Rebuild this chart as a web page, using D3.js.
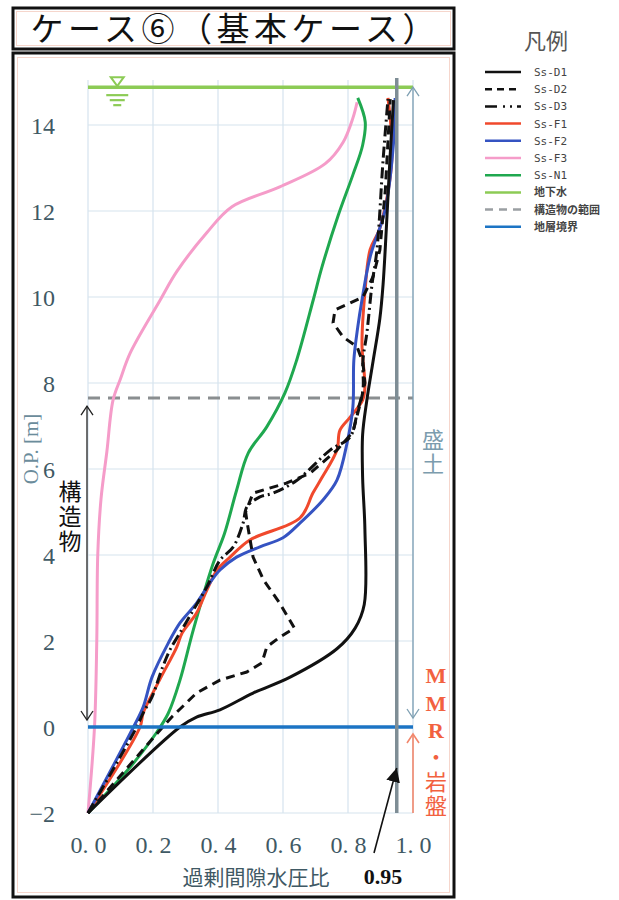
<!DOCTYPE html>
<html><head><meta charset="utf-8">
<script src="https://cdn.jsdelivr.net/npm/d3@7"></script>
<style>body{margin:0;background:#fff}</style>
</head><body>
<svg id="c" width="619" height="900" xmlns="http://www.w3.org/2000/svg"></svg>
<script>
// ---------- data (excess pore pressure ratio, elevation O.P. m) ----------
const titleText = "ケース⑥（基本ケース）";
const seriesNames = ["Ss-D1","Ss-D2","Ss-D3","Ss-F1","Ss-F2","Ss-F3","Ss-N1"];
const ssD1 = [[0,-2],[0.283,0],[0.334,0.23],[0.406,0.4],[0.508,0.79],[0.622,1.16],[0.766,1.82],[0.822,2.3],[0.85,2.85],[0.852,4.6],[0.845,5.8],[0.845,6.8],[0.858,7.6],[0.877,8.5],[0.898,9.5],[0.908,10.3],[0.918,11.6],[0.929,13.2],[0.94,14.58]];
const ssD2 = [[0,-2],[0.23,0],[0.26,0.25],[0.334,0.79],[0.406,1.09],[0.489,1.28],[0.535,1.49],[0.55,1.86],[0.59,2.09],[0.635,2.3],[0.59,2.88],[0.54,3.42],[0.508,3.95],[0.49,4.74],[0.485,5.0],[0.508,5.44],[0.61,5.67],[0.683,5.9],[0.766,6.44],[0.815,6.86],[0.837,7.5],[0.852,8.0],[0.846,8.47],[0.828,8.84],[0.785,9.07],[0.754,9.4],[0.76,9.7],[0.846,10.0],[0.877,10.47],[0.898,11.09],[0.915,12.5],[0.93,14.6]];
const ssD3 = [[0,-2],[0.15,0],[0.17,0.33],[0.197,0.7],[0.23,1.4],[0.252,1.79],[0.283,2.19],[0.324,2.72],[0.366,3.26],[0.406,3.88],[0.447,4.19],[0.477,4.74],[0.489,5.12],[0.529,5.35],[0.57,5.44],[0.643,5.74],[0.745,6.44],[0.806,6.74],[0.83,7.37],[0.846,7.84],[0.846,8.53],[0.858,9.16],[0.874,10.3],[0.889,11.09],[0.908,13.19],[0.923,14.6]];
const ssF1 = [[0,-2],[0.16,0],[0.17,0.33],[0.22,1.09],[0.273,1.86],[0.29,2.19],[0.334,2.65],[0.366,3.19],[0.397,3.65],[0.437,3.95],[0.498,4.35],[0.652,4.86],[0.692,5.44],[0.72,5.8],[0.766,6.44],[0.775,6.9],[0.806,7.2],[0.845,7.6],[0.852,7.9],[0.843,8.9],[0.852,10.1],[0.868,11.1],[0.898,11.6],[0.935,13.2],[0.923,14.63]];
const ssF2 = [[0,-2],[0.14,0],[0.17,0.47],[0.197,1.16],[0.247,1.95],[0.283,2.42],[0.334,2.88],[0.375,3.35],[0.406,3.65],[0.457,3.95],[0.529,4.19],[0.6,4.4],[0.652,4.74],[0.723,5.28],[0.766,5.74],[0.797,6.6],[0.815,7.44],[0.818,8.53],[0.83,9.3],[0.843,9.93],[0.868,10.93],[0.914,12.02],[0.94,13.58],[0.945,14.63]];
const ssF3 = [[0,-2],[0.02,0],[0.027,2],[0.03,4],[0.04,5.3],[0.058,6.4],[0.077,7.6],[0.1,8.1],[0.13,8.7],[0.22,9.9],[0.274,10.6],[0.366,11.5],[0.443,12.1],[0.59,12.56],[0.73,13.1],[0.785,13.6],[0.815,14.16],[0.828,14.53]];
const ssN1 = [[0,-2],[0.13,-0.93],[0.21,-0.14],[0.247,0.32],[0.283,1.09],[0.324,2.26],[0.385,3.8],[0.42,4.5],[0.457,5.5],[0.493,6.37],[0.55,6.98],[0.606,7.77],[0.642,8.53],[0.693,9.93],[0.72,10.7],[0.77,11.9],[0.815,12.84],[0.845,13.53],[0.853,14.07],[0.83,14.63]];
const xTicks = [0, 0.2, 0.4, 0.6, 0.8, 1.0];
const yTicks = [-2, 0, 2, 4, 6, 8, 10, 12, 14];
const xTickLabels = ["0. 0","0. 2","0. 4","0. 6","0. 8","1. 0"];
const groundwaterLevel = 14.88;
const structureTop = 7.65;
const boundaryLevel = 0;
const thresholdRatio = 0.95;
const legendLabels = ["Ss-D1","Ss-D2","Ss-D3","Ss-F1","Ss-F2","Ss-F3","Ss-N1","地下水","構造物の範囲","地層境界"];

// ---------- styles ----------
const seriesData = [ssD1, ssD2, ssD3, ssF1, ssF2, ssF3, ssN1];
const seriesStyle = {
  "Ss-D1": {color:"#111", dash:null, w:3},
  "Ss-D2": {color:"#111", dash:"9,6", w:3},
  "Ss-D3": {color:"#111", dash:"11,4,2,4", w:3},
  "Ss-F1": {color:"#f0492c", dash:null, w:3},
  "Ss-F2": {color:"#3553c2", dash:null, w:3},
  "Ss-F3": {color:"#f59cc9", dash:null, w:3},
  "Ss-N1": {color:"#1fa84f", dash:null, w:3}
};
const gwColor = "#8ccb55", structColor = "#8a8e90", boundColor = "#1c74c4";
const tickColor = "#3f5964";

const svg = d3.select("#c");
const x = d3.scaleLinear().domain([0, 1]).range([88, 413]);
const y = d3.scaleLinear().domain([-2, 15]).range([813, 82]);

// ---------- frames ----------
svg.append("rect").attr("x",13).attr("y",8).attr("width",441).attr("height",41)
  .attr("fill","#fff").attr("stroke","#111").attr("stroke-width",3);
svg.append("rect").attr("x",16.5).attr("y",11.5).attr("width",434).attr("height",34)
  .attr("fill","none").attr("stroke","#f6d6cc").attr("stroke-width",1);
svg.append("text").attr("x",233).attr("y",41).attr("text-anchor","middle")
  .attr("font-family","'Noto Sans CJK JP'").attr("font-size",33).attr("fill","#111")
  .attr("textLength",405).attr("lengthAdjust","spacing").text(titleText);
svg.append("rect").attr("x",13).attr("y",53).attr("width",441).attr("height",844)
  .attr("fill","#fff").attr("stroke","#111").attr("stroke-width",3);
svg.append("rect").attr("x",17.5).attr("y",57.5).attr("width",432).attr("height",835)
  .attr("fill","none").attr("stroke","#f6d6cc").attr("stroke-width",1);

// ---------- grid ----------
const g = svg.append("g");
g.selectAll(".vg").data(xTicks).join("line")
  .attr("x1",d=>x(d)).attr("x2",d=>x(d)).attr("y1",80).attr("y2",y(-2))
  .attr("stroke","#d5e3ee").attr("stroke-width",1.2);
g.selectAll(".hg").data(yTicks).join("line")
  .attr("x1",x(0)).attr("x2",x(1)).attr("y1",d=>y(d)).attr("y2",d=>y(d))
  .attr("stroke","#d5e3ee").attr("stroke-width",1.2);

// ---------- axes ----------
const yAxis = d3.axisLeft(y).tickValues(yTicks).tickSize(0).tickPadding(0)
  .tickFormat(d => d < 0 ? "−" + (-d) : String(d));
const ya = svg.append("g").attr("transform","translate(55,0)").call(yAxis);
ya.select(".domain").remove();
ya.selectAll("text").attr("font-family","'Liberation Serif',serif").attr("font-size",24)
  .attr("fill",tickColor).attr("dy","0.35em");

const xAxis = d3.axisBottom(x).tickValues(xTicks).tickSize(0).tickPadding(0)
  .tickFormat((d,i) => xTickLabels[i]);
const xa = svg.append("g").attr("transform","translate(0,836)").call(xAxis);
xa.select(".domain").remove();
xa.selectAll("text").attr("font-family","'Liberation Serif',serif").attr("font-size",24)
  .attr("fill",tickColor).attr("dy","0.71em").attr("xml:space","preserve");

svg.append("text").attr("transform","translate(38,449) rotate(-90)").attr("text-anchor","middle")
  .attr("font-family","'Liberation Serif',serif").attr("font-size",21).attr("fill","#6b8c9b")
  .text("O.P. [m]");
svg.append("text").attr("x",256).attr("y",885).attr("text-anchor","middle")
  .attr("font-family","'Noto Sans CJK JP'").attr("font-size",21).attr("fill",tickColor)
  .text("過剰間隙水圧比");
svg.append("text").attr("x",383).attr("y",884).attr("text-anchor","middle")
  .attr("font-family","'Liberation Serif',serif").attr("font-weight","bold").attr("font-size",22)
  .attr("fill","#111").text("0.95");

// ---------- reference lines ----------
svg.append("line").attr("x1",x(0)).attr("x2",x(1)).attr("y1",y(structureTop)).attr("y2",y(structureTop))
  .attr("stroke",structColor).attr("stroke-width",3).attr("stroke-dasharray","12,8");

// ---------- curves ----------
const lineGen = d3.line().x(d=>x(d[0])).y(d=>y(d[1]));
const drawOrder = ["Ss-F3","Ss-N1","Ss-F1","Ss-F2","Ss-D1","Ss-D2","Ss-D3"];
drawOrder.forEach(name => {
  const i = seriesNames.indexOf(name), s = seriesStyle[name];
  const gen = name === "Ss-D2" ? lineGen.curve(d3.curveLinear) : lineGen.curve(d3.curveCatmullRom.alpha(0.5));
  svg.append("path").datum(seriesData[i]).attr("d", gen)
    .attr("fill","none").attr("stroke",s.color).attr("stroke-width",s.w)
    .attr("stroke-linejoin","round").attr("stroke-dasharray",s.dash);
});

svg.append("line").attr("x1",x(0)).attr("x2",x(1)).attr("y1",y(boundaryLevel)).attr("y2",y(boundaryLevel))
  .attr("stroke",boundColor).attr("stroke-width",3.5);
svg.append("line").attr("x1",x(0)).attr("x2",x(1)).attr("y1",y(groundwaterLevel)).attr("y2",y(groundwaterLevel))
  .attr("stroke",gwColor).attr("stroke-width",3.5);
svg.append("line").attr("x1",x(thresholdRatio)).attr("x2",x(thresholdRatio)).attr("y1",78).attr("y2",y(-2))
  .attr("stroke","#7e8d95").attr("stroke-width",3.5);

// water table symbol
const wx = x(0.09), wy = y(groundwaterLevel);
svg.append("path").attr("d",`M${wx-6.5},${wy-10} L${wx+6.5},${wy-10} L${wx},${wy-1} Z`)
  .attr("fill","none").attr("stroke",gwColor).attr("stroke-width",2);
[[8,11],[13,7.5],[18,4]].forEach(([dy,hw]) => {
  svg.append("line").attr("x1",wx-hw).attr("x2",wx+hw).attr("y1",wy+dy).attr("y2",wy+dy)
    .attr("stroke",gwColor).attr("stroke-width",2.2);
});

// ---------- annotations ----------
function chevron(px, py, dir, color, w) {
  const s = dir === "up" ? 1 : -1;
  svg.append("path").attr("d",`M${px-6},${py+9*s} L${px},${py} L${px+6},${py+9*s}`)
    .attr("fill","none").attr("stroke",color).attr("stroke-width",w);
}
function verticalText(str, cx, cy, size, spacing, attrs) {
  const t = svg.append("text").attr("x",cx).attr("y",cy).attr("text-anchor","middle")
    .attr("font-size",size).attr("letter-spacing",spacing)
    .style("writing-mode","vertical-rl").style("text-orientation","upright");
  Object.entries(attrs).forEach(([k,v]) => t.attr(k,v));
  return t;
}
// 構造物 range
const sx = x(0) - 1;
svg.append("line").attr("x1",sx).attr("x2",sx).attr("y1",y(structureTop)+8).attr("y2",y(boundaryLevel)-7)
  .attr("stroke","#222").attr("stroke-width",1.3);
chevron(sx, y(structureTop)+8, "up", "#222", 1.3);
chevron(sx, y(boundaryLevel)-7, "down", "#222", 1.3);
verticalText("", 70, 517, 23, 2, {"font-family":"'Noto Sans CJK JP'","fill":"#111"}).text("構造物");
// 盛土 range
const rx = x(1);
svg.append("line").attr("x1",rx).attr("x2",rx).attr("y1",y(groundwaterLevel)).attr("y2",y(boundaryLevel)-9)
  .attr("stroke","#7fa0b3").attr("stroke-width",1.3);
chevron(rx, y(groundwaterLevel), "up", "#7fa0b3", 1.3);
chevron(rx, y(boundaryLevel)-9, "down", "#7fa0b3", 1.3);
verticalText("", 433, 453, 22, 2, {"font-family":"'Noto Sans CJK JP'","fill":"#7c9cae"}).text("盛土");
// MMR・岩盤
svg.append("line").attr("x1",rx).attr("x2",rx).attr("y1",y(boundaryLevel)+7).attr("y2",y(-2))
  .attr("stroke","#f2876c").attr("stroke-width",1.6);
chevron(rx, y(boundaryLevel)+7, "up", "#f2876c", 1.6);
const mmrText = verticalText("", 436, 741, 22, 2.5, {"font-family":"'Noto Sans CJK JP'","fill":"#f2613f"});
mmrText.append("tspan").attr("font-family","'Liberation Serif',serif").attr("font-weight","bold").text("MMR");
mmrText.append("tspan").text("・岩盤");
// 0.95 pointer
svg.append("defs").append("marker").attr("id","ah").attr("viewBox","0 0 10 10")
  .attr("refX",10).attr("refY",5).attr("markerWidth",14).attr("markerHeight",14)
  .attr("markerUnits","userSpaceOnUse").attr("orient","auto")
  .append("path").attr("d","M0,0 L10,5 L0,10 Z").attr("fill","#111");
svg.append("line").attr("x1",374).attr("y1",853).attr("x2",x(thresholdRatio)).attr("y2",768)
  .attr("stroke","#111").attr("stroke-width",1.6).attr("marker-end","url(#ah)");

// ---------- legend ----------
svg.append("text").attr("x",546).attr("y",49).attr("text-anchor","middle")
  .attr("font-family","'Noto Sans CJK JP'").attr("font-size",22).attr("fill","#555").text("凡例");
const legendStyles = [
  seriesStyle["Ss-D1"], {color:"#111",dash:"7,5",w:2.5}, {color:"#111",dash:"12,6,2,5,2,5",w:2.5},
  seriesStyle["Ss-F1"], seriesStyle["Ss-F2"], seriesStyle["Ss-F3"], seriesStyle["Ss-N1"],
  {color:gwColor,dash:null,w:2.5}, {color:"#9a9fa2",dash:"8,6",w:2.5}, {color:boundColor,dash:null,w:2.5}
];
const lg = svg.append("g");
legendLabels.forEach((lab,i) => {
  const ly = 72 + i*17.2, st = legendStyles[i];
  lg.append("line").attr("x1",485).attr("x2",521).attr("y1",ly).attr("y2",ly)
    .attr("stroke",st.color).attr("stroke-width",Math.min(st.w,2.5)).attr("stroke-dasharray",st.dash);
  lg.append("text").attr("x",534).attr("y",ly+4).attr("font-size",11)
    .attr("font-family", i < 7 ? "'DejaVu Sans Mono',monospace" : "'Noto Sans CJK JP'")
    .attr("font-weight", i < 7 ? "normal" : "bold")
    .attr("fill","#444").text(lab);
});
</script>
</body></html>
